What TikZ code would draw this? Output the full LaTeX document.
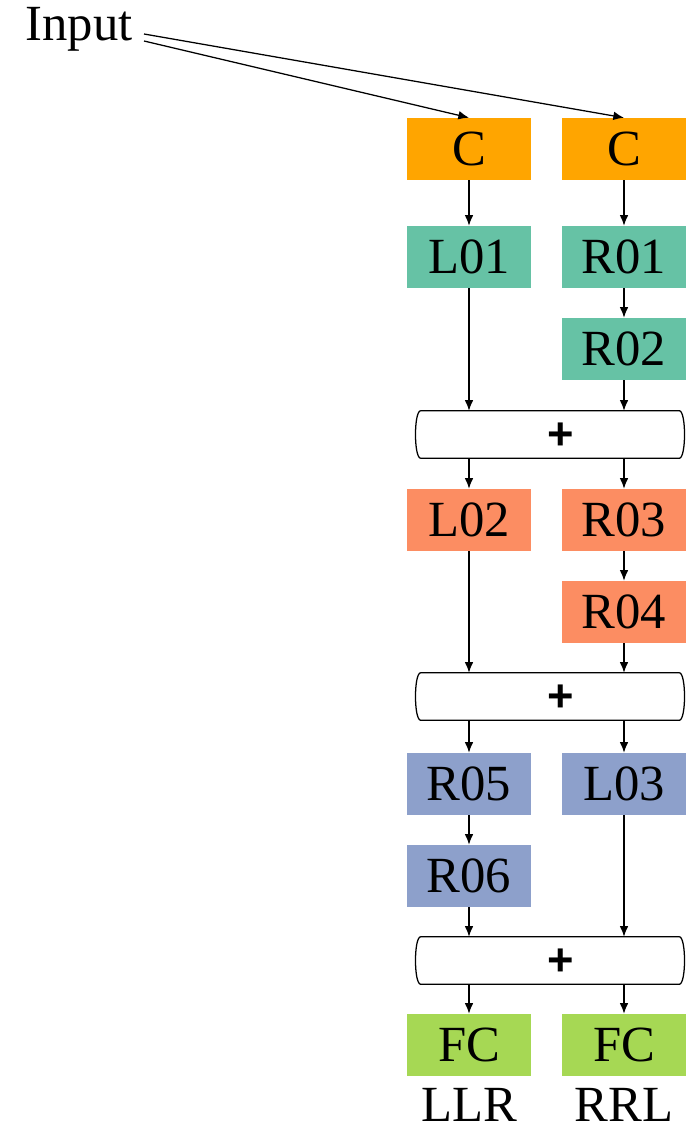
\documentclass[tikz,border=0pt]{standalone}
\usepackage{fontspec}
\setmainfont{Liberation Serif}
\setsansfont{Liberation Sans}
\usetikzlibrary{arrows.meta,calc}
\definecolor{corange}{HTML}{FFA500}
\definecolor{cteal}{HTML}{66C2A5}
\definecolor{csalmon}{HTML}{FC8D62}
\definecolor{cblue}{HTML}{8DA0CB}
\definecolor{cgreen}{HTML}{A6D854}
\begin{document}
\begin{tikzpicture}[x=0.75pt,y=-0.75pt,
  blk/.style={rectangle,inner sep=0pt,minimum width=93pt,minimum height=46.5pt,
    font=\fontsize{38}{40}\selectfont},
  sumbox/.style={rectangle,inner sep=0pt,minimum width=202.5pt,minimum height=35.25pt},
  plus/.style={font=\sffamily\bfseries\fontsize{34}{36}\selectfont,inner sep=0pt},
  lbl/.style={font=\fontsize{38}{40}\selectfont,inner sep=0pt},
  tag/.style={lbl,text depth=0pt,anchor=base},
  arr/.style={-{Latex[length=8pt,width=6.5pt]},line width=0.95pt},
  outline/.style={line width=0.95pt}]
\useasboundingbox (0,0) rectangle (690,1130);

% input label
\node[lbl] (in) at (79,29) {Input};
\coordinate (inA) at (144,34);
\coordinate (inB) at (144,41);

% blocks
\node[blk,fill=corange] (cl) at (469,149) {C};
\node[blk,fill=corange] (cr) at (624,149) {C};
\node[blk,fill=cteal] (l01) at (469,257) {L01};
\node[blk,fill=cteal] (r01) at (624,257) {R01};
\node[blk,fill=cteal] (r02) at (624,349) {R02};
\node[sumbox] (s1) at (550,434.5) {};
\node[plus] at (561,436) {+};
\node[blk,fill=csalmon] (l02) at (469,520) {L02};
\node[blk,fill=csalmon] (r03) at (624,520) {R03};
\node[blk,fill=csalmon] (r04) at (624,612) {R04};
\node[sumbox] (s2) at (550,696.5) {};
\node[plus] at (561,698) {+};
\node[blk,fill=cblue] (r05) at (469,784) {R05};
\node[blk,fill=cblue] (l03) at (624,784) {L03};
\node[blk,fill=cblue] (r06) at (469,876) {R06};
\node[sumbox] (s3) at (550,960.5) {};
\node[plus] at (561,962) {+};
\node[blk,fill=cgreen] (fcl) at (469,1045) {FC};
\node[blk,fill=cgreen] (fcr) at (624,1045) {FC};
\node[tag] (llr) at (469,1121) {LLR};
\node[tag] (rrl) at (624,1121) {RRL};

% outlines of the summation bars (slightly bulging ends)
\foreach \s in {s1,s2,s3}{
  \draw[outline] ($(\s.north west)+(6,0)$) -- ($(\s.north east)+(-6,0)$)
    .. controls ($(\s.north east)+(1,0)$) and ($(\s.south east)+(1,0)$) .. ($(\s.south east)+(-6,0)$)
    -- ($(\s.south west)+(6,0)$)
    .. controls ($(\s.south west)+(-1,0)$) and ($(\s.north west)+(-1,0)$) .. cycle;
}

% connectors
\draw[arr] (inA) -- (cr.north);
\draw[arr] (inB) -- (cl.north);
\draw[arr] (cl) -- (l01);
\draw[arr] (cr) -- (r01);
\draw[arr] (r01) -- (r02);
\draw[arr] (l01.south) -- (l01.south |- s1.north);
\draw[arr] (r02.south) -- (r02.south |- s1.north);
\draw[arr] (l02.north |- s1.south) -- (l02.north);
\draw[arr] (r03.north |- s1.south) -- (r03.north);
\draw[arr] (r03) -- (r04);
\draw[arr] (l02.south) -- (l02.south |- s2.north);
\draw[arr] (r04.south) -- (r04.south |- s2.north);
\draw[arr] (r05.north |- s2.south) -- (r05.north);
\draw[arr] (l03.north |- s2.south) -- (l03.north);
\draw[arr] (r05) -- (r06);
\draw[arr] (r06.south) -- (r06.south |- s3.north);
\draw[arr] (l03.south) -- (l03.south |- s3.north);
\draw[arr] (fcl.north |- s3.south) -- (fcl.north);
\draw[arr] (fcr.north |- s3.south) -- (fcr.north);
\end{tikzpicture}
\end{document}
